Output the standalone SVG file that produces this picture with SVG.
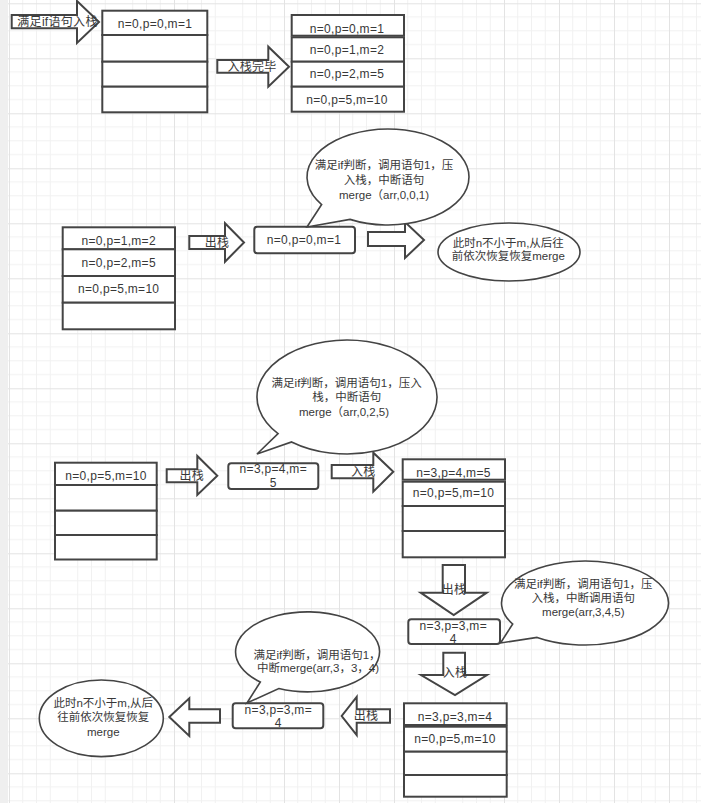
<svg xmlns="http://www.w3.org/2000/svg" width="701" height="803" viewBox="0 0 701 803">
<defs>
<pattern id="grid" x="9" y="3.3" width="55" height="55" patternUnits="userSpaceOnUse">
<path d="M13.75 0V55M27.5 0V55M41.25 0V55M0 13.75H55M0 27.5H55M0 41.25H55" stroke="#f1f1f1" stroke-width="1" fill="none"/>
<path d="M0.5 0V55M0 0.5H55" stroke="#e3e3e3" stroke-width="1" fill="none"/>
</pattern>
</defs>
<style>
.stk{fill:#fff;stroke:#444;stroke-width:2}
.box{fill:#fff;stroke:#444;stroke-width:2}
.arr{fill:#fff;stroke:#444;stroke-width:2;stroke-linejoin:miter}
.bub{fill:#fff;stroke:#444;stroke-width:1.6}
text{font-family:"Liberation Sans","Noto Sans CJK SC",sans-serif;fill:#383838;text-anchor:middle;dominant-baseline:central}
.t12{font-size:12px;letter-spacing:0.3px}
.t11{font-size:11.5px}
</style>
<rect width="701" height="803" fill="#fff"/>
<rect width="701" height="803" fill="url(#grid)"/>
<rect x="0" y="0" width="8" height="803" fill="#efefef"/>

<g id="connectors">
<g id="arrow-push1"><polygon class="arr" points="11.7,15 77,15 77,1 99,22 77,43 77,28.3 11.7,28.3"/><text class="t12" x="57.5" y="21.7">满足if语句入栈</text></g>
<g id="arrow-pushdone"><polygon class="arr" points="217.3,60 268.3,60 268.3,46.7 289,66.7 268.3,86.7 268.3,72.7 217.3,72.7"/><text class="t12" x="252" y="66.7">入栈完毕</text></g>
<g id="arrow-pop1"><polygon class="arr" points="189.3,236 225,236 225,223.3 244,242.5 225,261.7 225,249 189.3,249"/><text class="t12" x="217" y="242.7">出栈</text></g>
<g id="arrow-r1"><polygon class="arr" points="368,232 405,232 405,222 424,240 405,258 405,246 368,246"/></g>
<g id="arrow-pop2"><polygon class="arr" points="166.7,469.3 197.3,469.3 197.3,456 217.3,475.7 197.3,495 197.3,482.3 166.7,482.3"/><text class="t12" x="191.7" y="475.7">出栈</text></g>
<g id="arrow-push2"><polygon class="arr" points="331.7,465 373.3,465 373.3,452.7 393.3,471.7 373.3,491.7 373.3,478.3 331.7,478.3"/><text class="t12" x="363.3" y="471.7">入栈</text></g>
<g id="arrow-pop3"><polygon class="arr" points="442.7,565 465,565 465,592.7 486.7,592.7 453.7,615 420.7,592.7 442.7,592.7"/><text class="t12" x="454" y="590">出栈</text></g>
<g id="arrow-push3"><polygon class="arr" points="443.3,652.7 465,652.7 465,675 487,675 455,695 421,675 443.3,675"/><text class="t12" x="455" y="672.7">入栈</text></g>
<g id="arrow-pop4"><polygon class="arr" points="390,709.3 356.7,709.3 356.7,697 341.7,716 356.7,735 356.7,722.7 390,722.7"/><text class="t12" x="366" y="716">出栈</text></g>
<g id="arrow-l1"><polygon class="arr" points="220,709.3 189.3,709.3 189.3,698.3 169.3,717 189.3,736 189.3,722.7 220,722.7"/></g>
</g>

<g id="stack1">
<rect class="stk" x="102.3" y="10.7" width="105" height="24.3"/>
<rect class="stk" x="102.3" y="35" width="105" height="26.7"/>
<rect class="stk" x="102.3" y="61.7" width="105" height="25"/>
<rect class="stk" x="102.3" y="86.7" width="105" height="25.6"/>
<text class="t12" x="155" y="24">n=0,p=0,m=1</text>
</g>

<g id="stack2">
<rect class="stk" x="291.7" y="37.3" width="112.3" height="24.4"/>
<rect class="stk" x="291.7" y="61.7" width="112.3" height="25"/>
<rect class="stk" x="291.7" y="86.7" width="112.3" height="25"/>
<rect class="stk" x="291.7" y="15" width="112.3" height="20.7"/>
<text class="t12" x="347" y="29">n=0,p=0,m=1</text>
<text class="t12" x="347" y="49.5">n=0,p=1,m=2</text>
<text class="t12" x="347" y="74">n=0,p=2,m=5</text>
<text class="t12" x="347" y="100">n=0,p=5,m=10</text>
</g>

<g id="stack3">
<rect class="stk" x="62.7" y="227.3" width="112.3" height="22"/>
<rect class="stk" x="62.7" y="249.3" width="112.3" height="26.7"/>
<rect class="stk" x="62.7" y="276" width="112.3" height="26.7"/>
<rect class="stk" x="62.7" y="302.7" width="112.3" height="26.6"/>
<text class="t12" x="118.7" y="241">n=0,p=1,m=2</text>
<text class="t12" x="118.7" y="263.3">n=0,p=2,m=5</text>
<text class="t12" x="118.7" y="289.3">n=0,p=5,m=10</text>
</g>

<g id="node-pop1">
<rect class="box" x="254.3" y="226.7" width="100.7" height="26.6" rx="3"/>
<text class="t12" x="304" y="240">n=0,p=0,m=1</text>
</g>

<g id="callout1">
<path class="bub" d="M321.65 204.53 L307 227 L349.97 219.38 A81 48 0 1 0 321.65 204.53 Z"/>
<text class="t11" x="384" y="165">满足if判断，调用语句1，压</text>
<text class="t11" x="384" y="180">入栈，中断语句</text>
<text class="t11" x="384" y="194.5">merge（arr,0,0,1)</text>
</g>

<g id="end1">
<ellipse class="bub" cx="509" cy="252" rx="71" ry="29"/>
<text class="t11" x="508.3" y="242.7">此时n不小于m,从后往</text>
<text class="t11" x="508.3" y="255.5">前依次恢复恢复merge</text>
</g>

<g id="stack4">
<rect class="stk" x="55" y="462.7" width="101.7" height="22.3"/>
<rect class="stk" x="55" y="485" width="101.7" height="25.7"/>
<rect class="stk" x="55" y="510.7" width="101.7" height="24.3"/>
<rect class="stk" x="55" y="535" width="101.7" height="24.5"/>
<text class="t12" x="106" y="476">n=0,p=5,m=10</text>
</g>

<g id="node-pop2">
<rect class="box" x="228.3" y="463.3" width="90" height="25.7" rx="3"/>
<text class="t12" x="273.3" y="469.3">n=3,p=4,m=</text>
<text class="t12" x="273.3" y="483.3">5</text>
</g>

<g id="callout2">
<path class="bub" d="M278.06 433.64 L257 454 L291.59 441.92 A90 57 0 1 0 278.06 433.64 Z"/>
<text class="t11" x="346.7" y="383.3">满足if判断，调用语句1，压入</text>
<text class="t11" x="346.7" y="397.3">栈，中断语句</text>
<text class="t11" x="344" y="411.7">merge（arr,0,2,5)</text>
</g>

<g id="stack5">
<rect class="stk" x="402.7" y="481.7" width="102.3" height="24.3"/>
<rect class="stk" x="402.7" y="506" width="102.3" height="25"/>
<rect class="stk" x="402.7" y="531" width="102.3" height="26.3"/>
<rect class="stk" x="402.7" y="459.3" width="102.3" height="20.4"/>
<text class="t12" x="453.5" y="472.7">n=3,p=4,m=5</text>
<text class="t12" x="453.5" y="493.3">n=0,p=5,m=10</text>
</g>

<g id="node-pop3">
<rect class="box" x="408.3" y="619.3" width="91.7" height="24.7" rx="3"/>
<text class="t12" x="453.3" y="626">n=3,p=3,m=</text>
<text class="t12" x="453.3" y="638.5">4</text>
</g>

<g id="callout3">
<path class="bub" d="M512.7 624 L500.5 643 L537.1 637.4 A83.5 42 0 1 0 512.7 624 Z"/>
<text class="t11" x="583.3" y="584">满足if判断，调用语句1，压</text>
<text class="t11" x="583.3" y="597.5">入栈，中断调用语句</text>
<text class="t11" x="583.3" y="611.7">merge(arr,3,4,5)</text>
</g>

<g id="stack6">
<rect class="stk" x="404" y="726.7" width="102.7" height="25"/>
<rect class="stk" x="404" y="751.7" width="102.7" height="23.3"/>
<rect class="stk" x="404" y="775" width="102.7" height="21.7"/>
<rect class="stk" x="404" y="703.3" width="102.7" height="21.7"/>
<text class="t12" x="455" y="716.7">n=3,p=3,m=4</text>
<text class="t12" x="455" y="739.3">n=0,p=5,m=10</text>
</g>

<g id="node-pop4">
<rect class="box" x="232.7" y="703.3" width="90.6" height="25" rx="3"/>
<text class="t12" x="278.3" y="710">n=3,p=3,m=</text>
<text class="t12" x="278.3" y="723.3">4</text>
</g>

<g id="callout4">
<path class="bub" d="M260.3 682 L247 703 L278.8 688.5 A72 40 0 1 0 260.3 682 Z"/>
<text class="t11" x="317" y="655">满足if判断，调用语句1，</text>
<text class="t11" x="318" y="668.3">中断merge(arr,3，3，4)</text>
</g>

<g id="end2">
<ellipse class="bub" cx="101.3" cy="718.3" rx="62" ry="38.3"/>
<text class="t11" x="103.3" y="703.3">此时n不小于m,从后</text>
<text class="t11" x="103.3" y="717.3">往前依次恢复恢复</text>
<text class="t11" x="103.3" y="731.7">merge</text>
</g>
</svg>
